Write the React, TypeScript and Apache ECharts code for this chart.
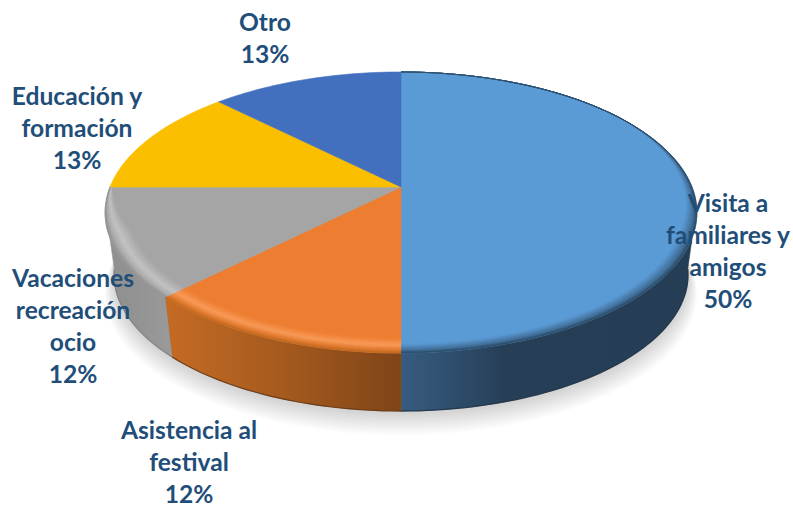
import React, { useEffect, useRef } from "react";
import * as echarts from "echarts";

const categories = ["Visita a\nfamiliares y\namigos", "Asistencia al\nfestival", "Vacaciones\nrecreación\nocio", "Educación y\nformación", "Otro"];
const values = [50, 12.5, 12.5, 12.5, 12.5];
const percentLabels = ["50%", "12%", "12%", "13%", "13%"];
const topColors = ["#5b9bd5", "#ed7d31", "#a5a5a5", "#fcbf00", "#4270bf"];
const labelCenters = [[728, 250], [189, 461], [73, 325], [77, 127], [265, 37]];

// Perspective of the disc
const CX = 401, CY = 187, A = 291, B = 135.9, K = -0.1815;
const DROP = 63, BOTTOM_SCALE = 0.97;

type Pt = [number, number];
function project(deg: number, r = 1, level = 0): Pt {
  const a = (deg * Math.PI) / 180;
  const u = Math.sin(a) * r, v = -Math.cos(a) * r;
  const d = 1 + K * v;
  const s = level ? BOTTOM_SCALE : 1;
  return [CX + (A * s * u) / d, CY + (level ? DROP : 0) + (B * s * v) / d];
}
function arc(a0: number, a1: number, r: (a: number) => number = () => 1, level = 0): Pt[] {
  const n = Math.max(2, Math.ceil(Math.abs(a1 - a0) / 1.5));
  const out: Pt[] = [];
  for (let i = 0; i <= n; i++) {
    const a = a0 + ((a1 - a0) * i) / n;
    out.push(project(a, r(a), level));
  }
  return out;
}
function hex(c: string) { return [1, 3, 5].map((i) => parseInt(c.slice(i, i + 2), 16)); }
function mix(c1: string, c2: string, t: number) {
  const a = hex(c1), b = hex(c2);
  return `rgb(${a.map((x, i) => Math.round(x + (b[i] - x) * t)).join(",")})`;
}
function clamp(x: number) { return Math.max(0, Math.min(1, x)); }

// bevel profile per slice: [radius, colour] from inner to outer
const bevelStops: [number, string][][] = [
  [[0.955, "#5b9bd5"], [0.985, "#42709b"], [1, "#29445c"]],
  [[0.925, "#ed7d31"], [0.962, "#f99c5a"], [0.985, "#e07a2f"], [1, "#bd6820"]],
  [[0.925, "#a5a5a5"], [0.965, "#c4c4c4"], [0.988, "#aaaaaa"], [1, "#909090"]],
];
const bevelTaper = [
  (a: number) => clamp((a - 55) / 55),
  () => 1,
  (a: number) => clamp((272 - a) / 22),
];
const sideColors = [
  ["#375c80", "#263f57", "#253e55"],
  ["#c46b24", "#a55a1e", "#7f4418"],
  ["#8f8f8f", "#939393", "#9a9a9a"],
];
const sideOffsets = [[0, 0.35, 1], [0, 0.5, 1], [0, 0.5, 1]];
const sideEdges = ["#1b2f42", "#5a2f10", "#7d7d7d"];
const sideLimit = [[98, 180], [180, 225], [225, 262]];

const ranges: number[][] = [];
{
  const total = values.reduce((s, v) => s + v, 0);
  let acc = 0;
  values.forEach((v) => {
    ranges.push([(acc / total) * 360, ((acc + v) / total) * 360]);
    acc += v;
  });
}
const data = ranges.map((r, i) => [r[0], r[1], values[i]]);

function renderShadow(params: any) {
  if (params.dataIndex !== 0) return { type: "group", children: [] };
  const children: any[] = [];
  for (let k = 14; k >= 1; k--) {
    children.push({
      type: "polygon",
      y: 2 + k * 1.15,
      shape: { points: arc(0, 360, () => 1 + k * 0.0022, 1) },
      style: { fill: "rgba(0,0,0,0.013)" },
    });
  }
  return { type: "group", children };
}
function renderSide(params: any) {
  const i = params.dataIndex;
  if (i > 2) return { type: "group", children: [] };
  const [a0, a1] = sideLimit[i];
  const stops = sideColors[i];
  const bottom = arc(a0, a1, () => 1, 1);
  return {
    type: "group",
    children: [
      {
        type: "polygon",
        shape: { points: [...arc(a0, a1), ...bottom.slice().reverse()] },
        style: {
          fill: new echarts.graphic.LinearGradient(0, 0, 1, 0,
            stops.map((color, k) => ({ offset: sideOffsets[i][k], color }))),
          stroke: stops[1],
          lineWidth: 0.5,
        },
      },
      { type: "polyline", shape: { points: bottom }, style: { fill: "none", stroke: sideEdges[i], lineWidth: 1.2, opacity: 0.8 } },
    ],
  };
}
function renderTop(params: any, api: any) {
  const i = params.dataIndex;
  const a0 = api.value(0), a1 = api.value(1);
  return {
    type: "polygon",
    shape: { points: [[CX, CY], ...arc(a0, a1)] },
    style: { fill: topColors[i], stroke: topColors[i], lineWidth: 0.6 },
  };
}
function renderBevel(params: any, api: any) {
  const i = params.dataIndex;
  if (i > 2) return { type: "group", children: [] };
  const a0 = api.value(0), a1 = api.value(1);
  const stops = bevelStops[i];
  const taper = bevelTaper[i];
  const children: any[] = [];
  const perSeg = 4;
  for (let s = 0; s < stops.length - 1; s++) {
    for (let k = 0; k < perSeg; k++) {
      const t0 = k / perSeg, t1 = (k + 1) / perSeg;
      const r0 = stops[s][0] + (stops[s + 1][0] - stops[s][0]) * t0;
      const r1 = stops[s][0] + (stops[s + 1][0] - stops[s][0]) * t1;
      const inner = arc(a0, a1, (a) => 1 - (1 - r0) * taper(a));
      const outer = arc(a0, a1, (a) => 1 - (1 - r1) * taper(a));
      const color = mix(stops[s][1], stops[s + 1][1], (t0 + t1) / 2);
      children.push({
        type: "polygon",
        shape: { points: [...inner, ...outer.reverse()] },
        style: { fill: color, stroke: color, lineWidth: 0.4 },
      });
    }
  }
  if (i === 0) {
    children.push({
      type: "polyline",
      shape: { points: arc(25, 100) },
      style: { fill: "none", stroke: "rgba(40,70,100,0.4)", lineWidth: 1 },
    });
  }
  return { type: "group", children };
}
function renderLabel(params: any) {
  const i = params.dataIndex;
  const [x, y] = labelCenters[i];
  return {
    type: "text",
    style: {
      text: `${categories[i]}\n${percentLabels[i]}`,
      x,
      y,
      align: "center",
      verticalAlign: "middle",
      font: "bold 24.6px Lato",
      lineHeight: 32,
      fill: "#1f4e79",
    },
  };
}

export default function App() {
  const ref = useRef<HTMLDivElement>(null);
  useEffect(() => {
    document.body.style.margin = "0";
    const chart = echarts.init(ref.current!, undefined, { renderer: "svg" });
    const base = { type: "custom", coordinateSystem: "none", silent: true, data, clip: false };
    chart.setOption({
      animation: false,
      backgroundColor: "#ffffff",
      series: [
        { ...base, z: 1, renderItem: renderShadow },
        { ...base, z: 2, renderItem: renderSide },
        { ...base, z: 3, renderItem: renderTop },
        { ...base, z: 4, renderItem: renderBevel },
        { ...base, z: 5, renderItem: renderLabel },
      ],
    });
    return () => chart.dispose();
  }, []);
  return <div ref={ref} style={{ width: 793, height: 506 }} />;
}
